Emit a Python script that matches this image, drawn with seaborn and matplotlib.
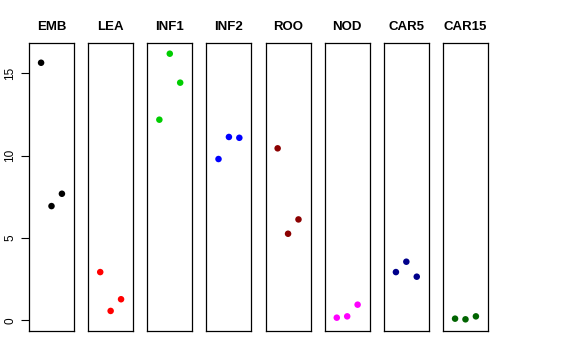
import numpy as np
import pandas as pd
import matplotlib
matplotlib.use('Agg')
import matplotlib.pyplot as plt
import seaborn as sns

# Panel names and colours
groups = ['EMB', 'LEA', 'INF1', 'INF2', 'ROO', 'NOD', 'CAR5', 'CAR15']
colors = ['#000000', '#FF0000', '#00CD00', '#0000FF', '#8B0000', '#FF00FF', '#00008B', '#006400']

# Three replicate values per panel
emb = [15.65, 6.94, 7.69]
lea = [2.93, 0.57, 1.28]
inf1 = [12.19, 16.20, 14.44]
inf2 = [9.80, 11.14, 11.09]
roo = [10.45, 5.26, 6.13]
nod = [0.16, 0.24, 0.95]
car5 = [2.93, 3.56, 2.65]
car15 = [0.10, 0.06, 0.24]
replicate = [1, 2, 3]

values = [emb, lea, inf1, inf2, roo, nod, car5, car15]

sns.set_style('white')
plt.rcParams['font.family'] = ['Liberation Sans', 'DejaVu Sans']
plt.rcParams['text.color'] = 'black'
plt.rcParams['ytick.color'] = 'black'
plt.rcParams['axes.labelcolor'] = 'black'

fig = plt.figure(figsize=(5.76, 3.6), dpi=100)

for i, (name, col, vals) in enumerate(zip(groups, colors, values)):
    left = (29 + i * 59.14) / 576
    ax = fig.add_axes([left, 29 / 360, 45 / 576, 288 / 360])
    df = pd.DataFrame({'x': replicate, 'y': vals})
    sns.scatterplot(data=df, x='x', y='y', ax=ax, color=col, s=22,
                    edgecolor='none', linewidth=0)
    ax.set_xlim(-0.16, 4.16)
    ax.set_ylim(-0.65, 16.85)
    ax.set_xlabel('')
    ax.set_ylabel('')
    ax.set_xticks([])
    for sp in ax.spines.values():
        sp.set_visible(True)
        sp.set_color('black')
        sp.set_linewidth(0.9)
    ax.set_title(name, fontsize=9.5, fontweight='bold', color='black', pad=9)
    if i == 0:
        ax.set_yticks([0, 5, 10, 15])
        ax.tick_params(axis='y', left=True, length=6, width=0.8, pad=3,
                       labelsize=8.5, labelrotation=90, colors='black')
        for lab in ax.get_yticklabels():
            lab.set_verticalalignment('center')
    else:
        ax.set_yticks([])

fig.savefig('out.png', dpi=100)
